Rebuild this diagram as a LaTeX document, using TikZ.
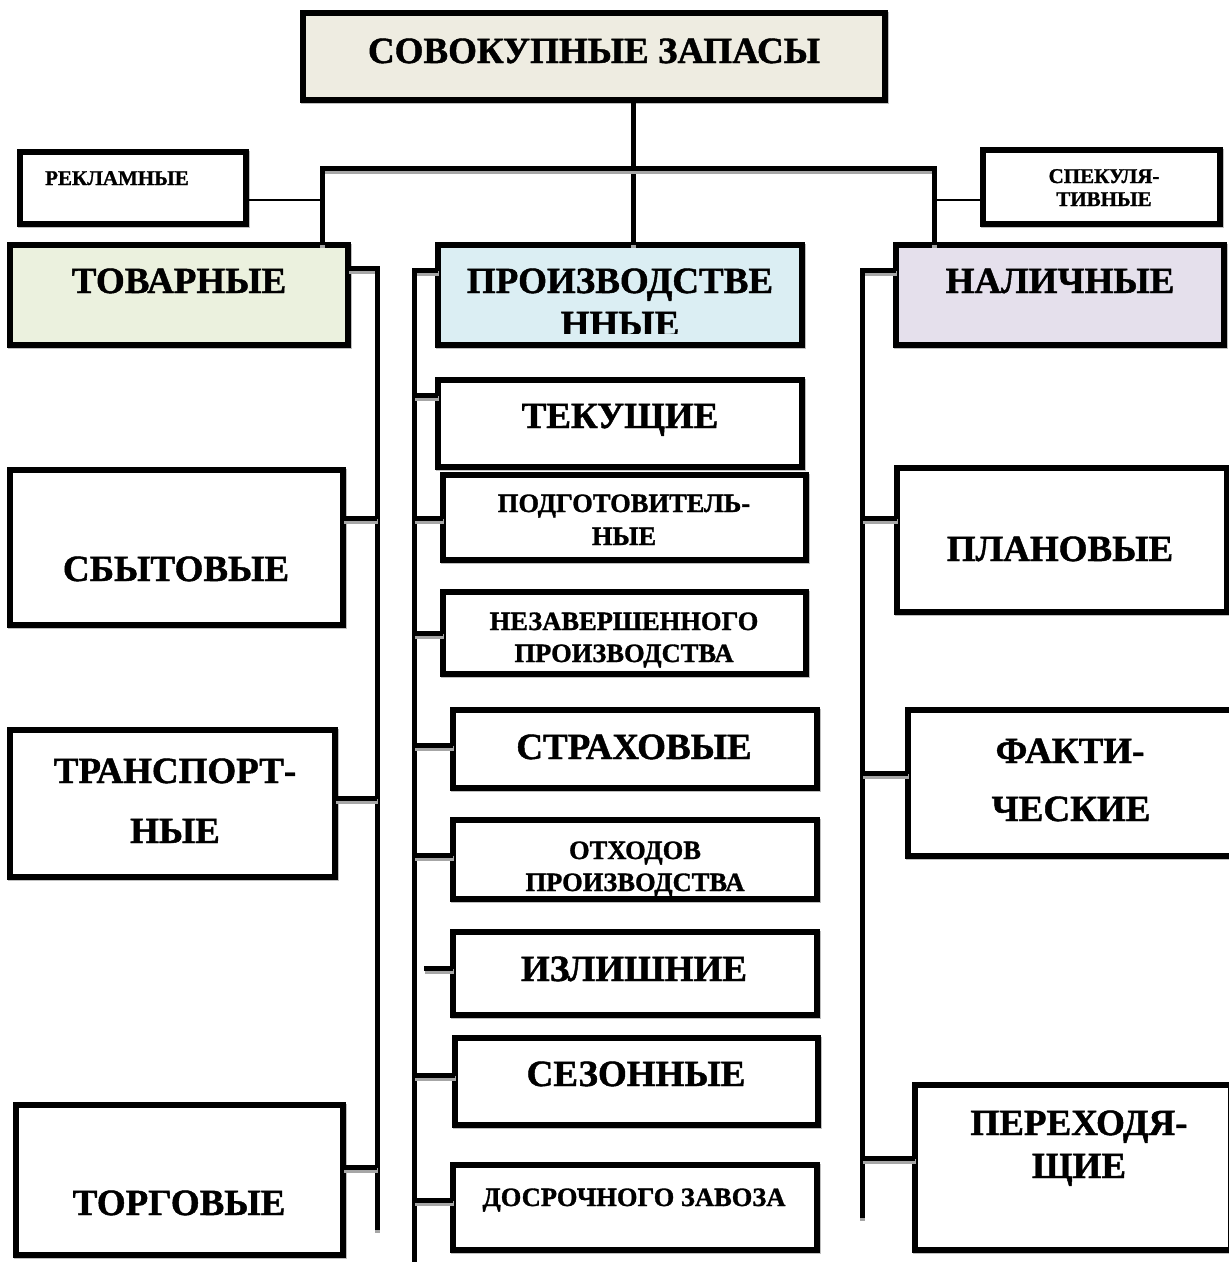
\documentclass[tikz,border=0pt]{standalone}
\usepackage{fontspec}
\setmainfont{Liberation Serif}[BoldFeatures={FakeBold=1.2}]
\definecolor{cbeige}{HTML}{EEECE1}
\definecolor{cgreen}{HTML}{EBF1DE}
\definecolor{cblue}{HTML}{DBEEF3}
\definecolor{cpurple}{HTML}{E5E0EC}
\tikzset{
  box/.style={draw, line width=5.5pt, inner sep=0pt, outer sep=0pt, fill=white,
    preaction={draw=black!25, line width=5.5pt, transform canvas={shift={(1pt,-1.5pt)}}}},
  conn/.style={line width=5pt,
    preaction={draw=black!35, line width=5pt, transform canvas={shift={(0.5pt,-3pt)}}}},
  thinconn/.style={line width=1.6pt},
  bigtxt/.style={font=\fontsize{37}{42}\selectfont\bfseries, anchor=base, inner sep=0pt},
  midtxt/.style={font=\fontsize{26.5}{32}\selectfont\bfseries, anchor=base, inner sep=0pt},
  smalltxt/.style={font=\fontsize{21}{22}\selectfont\bfseries, anchor=base, inner sep=0pt},
}
\begin{document}
\begin{tikzpicture}[x=1pt,y=-1pt]
\useasboundingbox (0,0) rectangle (1229,1262);
\fill[white] (0,0) rectangle (1229,1262);
\clip (0,0) rectangle (1229,1262);

% top
\node[box, fill=cbeige, minimum width=582pt, minimum height=87pt] (top) at (594,56.5) {};
\node[bigtxt] (ttop) at (594,63) {СОВОКУПНЫЕ ЗАПАСЫ};

% side small boxes
\node[box, minimum width=226pt, minimum height=72pt] (rek) at (133,188) {};
\node[smalltxt] (trek) at (117,185) {РЕКЛАМНЫЕ};
\node[box, minimum width=237pt, minimum height=74pt] (spek) at (1101.5,187) {};
\node[smalltxt] (tspek1) at (1104,183) {СПЕКУЛЯ-};
\node[smalltxt] (tspek2) at (1104,206) {ТИВНЫЕ};

% level 1
\node[box, fill=cgreen, minimum width=338pt, minimum height=100pt] (tov) at (179,295) {};
\node[bigtxt] (ttov) at (179,293) {ТОВАРНЫЕ};
\node[box, fill=cblue, minimum width=364pt, minimum height=100pt] (prod) at (620,295) {};
\begin{scope}
  \clip (440,248) rectangle (800,333);
  \node[bigtxt] (tprod1) at (620,293) {ПРОИЗВОДСТВЕ};
  \node[bigtxt] (tprod2) at (620,336) {ННЫЕ};
\end{scope}
\draw[line width=5.5pt] (prod.north west) rectangle (prod.south east);
\node[box, fill=cpurple, minimum width=328pt, minimum height=100pt] (nal) at (1060,295) {};
\node[bigtxt] (tnal) at (1060,293) {НАЛИЧНЫЕ};

% left children
\node[box, minimum width=333pt, minimum height=155pt] (sbyt) at (176.5,547.5) {};
\node[bigtxt] (tsbyt) at (176,581) {СБЫТОВЫЕ};
\node[box, minimum width=325pt, minimum height=147pt] (trans) at (172.5,803.5) {};
\node[bigtxt] (ttrans1) at (175,783) {ТРАНСПОРТ-};
\node[bigtxt] (ttrans2) at (175,843) {НЫЕ};
\node[box, minimum width=327pt, minimum height=150pt] (torg) at (179.5,1180) {};
\node[bigtxt] (ttorg) at (179,1215) {ТОРГОВЫЕ};

% middle children
\node[box, minimum width=364pt, minimum height=87pt] (tek) at (620,423.5) {};
\node[bigtxt] (ttek) at (620,428) {ТЕКУЩИЕ};
\node[box, minimum width=363pt, minimum height=85pt] (podg) at (624.5,517.5) {};
\node[midtxt] (tpodg1) at (624,512) {ПОДГОТОВИТЕЛЬ-};
\node[midtxt] (tpodg2) at (624,545) {НЫЕ};
\node[box, minimum width=363pt, minimum height=82pt] (nezav) at (624.5,633) {};
\node[midtxt] (tnezav1) at (624,630) {НЕЗАВЕРШЕННОГО};
\node[midtxt] (tnezav2) at (624,662) {ПРОИЗВОДСТВА};
\node[box, minimum width=364pt, minimum height=78pt] (strah) at (635,749) {};
\node[bigtxt] (tstrah) at (634,759) {СТРАХОВЫЕ};
\node[box, minimum width=364pt, minimum height=79pt] (otx) at (635,859.5) {};
\node[midtxt] (totx1) at (635,859) {ОТХОДОВ};
\node[midtxt] (totx2) at (635,891) {ПРОИЗВОДСТВА};
\node[box, minimum width=364pt, minimum height=83pt] (izl) at (635,973.5) {};
\node[bigtxt] (tizl) at (634,981) {ИЗЛИШНИЕ};
\node[box, minimum width=363pt, minimum height=87pt] (sez) at (636.5,1081.5) {};
\node[bigtxt] (tsez) at (636,1086) {СЕЗОННЫЕ};
\node[box, minimum width=364pt, minimum height=85pt] (dosr) at (635,1207.5) {};
\node[midtxt] (tdosr) at (634,1206) {ДОСРОЧНОГО ЗАВОЗА};

% right children
\node[box, minimum width=330pt, minimum height=144pt] (plan) at (1062,540) {};
\node[bigtxt] (tplan) at (1060,561) {ПЛАНОВЫЕ};
\node[box, minimum width=324pt, minimum height=146pt] (fakt) at (1070,783) {};
\node[bigtxt] (tfakt1) at (1070,763) {ФАКТИ-};
\node[bigtxt] (tfakt2) at (1071,821) {ЧЕСКИЕ};
\node[box, minimum width=316pt, minimum height=165pt] (perex) at (1073,1167.5) {};
\node[bigtxt] (tperex1) at (1079,1135) {ПЕРЕХОДЯ-};
\node[bigtxt] (tperex2) at (1079,1178) {ЩИЕ};

% top connectors
\coordinate (bM) at (633,168);
\coordinate (bL) at (322,168);
\coordinate (bR) at (934,168);
\draw[conn] (top.south -| bM) -- (prod.north -| bM);
\draw[conn] (tov.north -| bL) -- (bL) -- (bR) -- (nal.north -| bR);
\coordinate (rl) at (322,200);
\coordinate (rr) at (934,200);
\draw[thinconn] (rek.east |- rl) -- (rl);
\draw[thinconn] (rr) -- (spek.west |- rr);

% left bus
\coordinate (vL) at (377,268);
\coordinate (vLe) at (377,1230);
\draw[conn] (tov.east |- vL) -- (vL) -- (vLe);
\draw[conn] (sbyt.east |- 0,518) -- (vL |- 0,518);
\draw[conn] (trans.east |- 0,798) -- (vL |- 0,798);
\draw[conn] (torg.east |- 0,1167) -- (vL |- 0,1167);

% middle bus
\coordinate (vM) at (414,270);
\coordinate (vMe) at (414,1262);
\draw[conn] (prod.west |- vM) -- (vM) -- (vMe);
\draw[conn] (vM |- 0,395) -- (tek.west |- 0,395);
\draw[conn] (vM |- 0,518) -- (podg.west |- 0,518);
\draw[conn] (vM |- 0,633) -- (nezav.west |- 0,633);
\draw[conn] (vM |- 0,745) -- (strah.west |- 0,745);
\draw[conn] (vM |- 0,855) -- (otx.west |- 0,855);
\coordinate (izf) at (424,968);
\draw[conn] (izf) -- (izl.west |- izf);
\draw[conn] (vM |- 0,1075) -- (sez.west |- 0,1075);
\draw[conn] (vM |- 0,1200) -- (dosr.west |- 0,1200);

% right bus
\coordinate (vR) at (862,270);
\coordinate (vRe) at (862,1218);
\draw[conn] (nal.west |- vR) -- (vR) -- (vRe);
\draw[conn] (vR |- 0,518) -- (plan.west |- 0,518);
\draw[conn] (vR |- 0,773) -- (fakt.west |- 0,773);
\draw[conn] (vR |- 0,1158) -- (perex.west |- 0,1158);
\end{tikzpicture}
\end{document}
